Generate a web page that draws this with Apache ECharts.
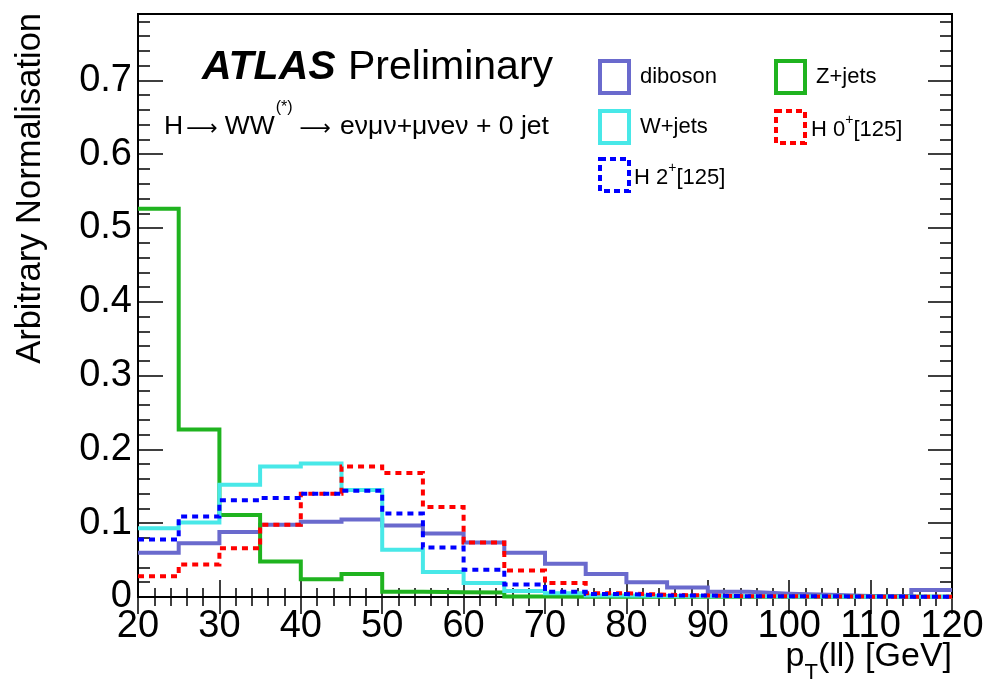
<!DOCTYPE html>
<html>
<head>
<meta charset="utf-8">
<script src="https://cdn.jsdelivr.net/npm/echarts@6/dist/echarts.min.js"></script>
<style>
  html, body { margin: 0; padding: 0; background: #ffffff; }
  #chart { width: 990px; height: 680px; }
</style>
</head>
<body>
<div id="chart"></div>
<script>
// pT(ll) bins, 5 GeV wide: lower edges plus the last upper edge
const binLow = [20, 25, 30, 35, 40, 45, 50, 55, 60, 65, 70, 75, 80, 85, 90, 95, 100, 105, 110, 115];
const binHigh = 120;

// Normalised shapes per process
const diboson = [0.060, 0.073, 0.088, 0.098, 0.102, 0.105, 0.097, 0.086, 0.074, 0.060,
                 0.045, 0.031, 0.020, 0.013, 0.007, 0.0045, 0.003, 0.0015, 0.0015, 0.0095];
const zJets   = [0.526, 0.227, 0.111, 0.048, 0.024, 0.031, 0.007, 0.0065, 0.006, 0.0006,
                 0.0005, 0.0004, 0.0004, 0.0003, 0.0003, 0.0002, 0.0002, 0.0002, 0.0002, 0.0002];
const wJets   = [0.093, 0.101, 0.152, 0.177, 0.181, 0.145, 0.064, 0.034, 0.019, 0.008,
                 0.005, 0.002, 0.0015, 0.001, 0.001, 0.0008, 0.0006, 0.0005, 0.0005, 0.0005];
const h0      = [0.028, 0.044, 0.066, 0.098, 0.140, 0.177, 0.168, 0.122, 0.074, 0.036,
                 0.019, 0.005, 0.003, 0.002, 0.001, 0.001, 0.0006, 0.0005, 0.0005, 0.0005];
const h2      = [0.078, 0.109, 0.131, 0.134, 0.140, 0.144, 0.113, 0.067, 0.037, 0.017,
                 0.007, 0.004, 0.002, 0.002, 0.001, 0.001, 0.001, 0.0006, 0.0005, 0.0005];

const seriesNames = ['diboson', 'Z+jets', 'W+jets', 'H 0+[125]', 'H 2+[125]'];
const xTickStep = 10;
const yTickStep = 0.1;
const yTop = 0.79;

const FONT = '"Liberation Sans", Arial, Helvetica, sans-serif';
const ARROW_FONT = '"DejaVu Sans", "Liberation Sans", sans-serif';
const COLORS = {
  diboson: '#6a6acd',
  zjets: '#1fb31f',
  wjets: '#48e8e8',
  h0: '#ff0000',
  h2: '#0000ff'
};
const DASH = [6, 5];

// histogram outline: one point per lower edge, closed by the last upper edge
function histPoints(vals) {
  const pts = binLow.map((x, i) => [x, vals[i]]);
  pts.push([binHigh, vals[vals.length - 1]]);
  return pts;
}

function histSeries(name, vals, color, dashed) {
  return {
    name: name,
    type: 'line',
    step: 'end',
    symbol: 'none',
    xAxisIndex: 0,
    yAxisIndex: 0,
    data: histPoints(vals),
    lineStyle: { color: color, width: 4, type: dashed ? DASH : 'solid', join: 'miter' },
    itemStyle: { color: color },
    emphasis: { disabled: true },
    animation: false
  };
}

function legendBox(name, left, top, color, dashed, textPad, rich) {
  return {
    show: true,
    left: left,
    top: top,
    padding: 0,
    orient: 'horizontal',
    selectedMode: false,
    icon: 'rect',
    itemWidth: 29,
    itemHeight: 32,
    data: [{
      name: name,
      icon: 'rect',
      itemStyle: {
        color: 'rgba(0,0,0,0)',
        borderColor: color,
        borderWidth: 4,
        borderType: dashed ? [6, 4] : 'solid'
      }
    }],
    formatter: rich ? function (n) {
      const parts = n.split('+');
      return '{n|' + parts[0] + '}{p|+}{n|' + parts[1] + '}';
    } : '{name}',
    textStyle: {
      fontFamily: FONT,
      fontSize: 22,
      color: '#000',
      padding: [0, 0, 0, textPad],
      rich: {
        n: { fontFamily: FONT, fontSize: 22, color: '#000', lineHeight: 28, verticalAlign: 'bottom' },
        p: { fontFamily: FONT, fontSize: 14, color: '#000', lineHeight: 14, verticalAlign: 'top' }
      }
    }
  };
}

const tickStyle = { color: '#000', width: 1.5 };

const option = {
  backgroundColor: '#ffffff',
  animation: false,
  grid: {
    left: 138, top: 14, right: 38, bottom: 83,
    show: true, borderColor: '#000', borderWidth: 2, backgroundColor: '#ffffff'
  },
  xAxis: [{
    type: 'value', position: 'bottom',
    min: binLow[0], max: binHigh, interval: xTickStep,
    axisLine: { show: false },
    splitLine: { show: false },
    axisTick: { show: true, inside: true, length: 17, lineStyle: tickStyle },
    minorTick: { show: true, splitNumber: 5, length: 9, lineStyle: tickStyle },
    axisLabel: { fontFamily: FONT, fontSize: 38, color: '#000', margin: 11 }
  }, {
    type: 'value', position: 'top',
    min: binLow[0], max: binHigh, interval: xTickStep,
    axisLine: { show: false },
    splitLine: { show: false },
    axisTick: { show: true, inside: true, length: 17, lineStyle: tickStyle },
    minorTick: { show: true, splitNumber: 5, length: 9, lineStyle: tickStyle },
    axisLabel: { show: false }
  }],
  yAxis: [{
    type: 'value', position: 'left',
    min: 0, max: yTop, interval: yTickStep,
    axisLine: { show: false },
    splitLine: { show: false },
    axisTick: { show: true, inside: true, length: 25, lineStyle: tickStyle },
    minorTick: { show: true, splitNumber: 5, length: 12, lineStyle: tickStyle },
    axisLabel: {
      fontFamily: FONT, fontSize: 38, color: '#000', margin: 6,
      showMaxLabel: false,
      formatter: function (v) { return v === 0 ? '0' : v.toFixed(1); }
    }
  }, {
    type: 'value', position: 'right',
    min: 0, max: yTop, interval: yTickStep,
    axisLine: { show: false },
    splitLine: { show: false },
    axisTick: { show: true, inside: true, length: 24, lineStyle: tickStyle },
    minorTick: { show: true, splitNumber: 5, length: 12, lineStyle: tickStyle },
    axisLabel: { show: false }
  }],
  legend: [
    legendBox(seriesNames[0], 598, 59, COLORS.diboson, false, 6, false),
    legendBox(seriesNames[1], 774, 59, COLORS.zjets, false, 6, false),
    legendBox(seriesNames[2], 598, 109, COLORS.wjets, false, 6, false),
    legendBox(seriesNames[3], 774, 109, COLORS.h0, true, 1, true),
    legendBox(seriesNames[4], 598, 157, COLORS.h2, true, 0, true)
  ],
  series: [
    histSeries(seriesNames[0], diboson, COLORS.diboson, false),
    histSeries(seriesNames[1], zJets, COLORS.zjets, false),
    histSeries(seriesNames[2], wJets, COLORS.wjets, false),
    histSeries(seriesNames[3], h0, COLORS.h0, true),
    histSeries(seriesNames[4], h2, COLORS.h2, true)
  ],
  graphic: [
    {
      type: 'text', x: 202, y: 68, silent: true,
      style: {
        text: 'ATLAS', fill: '#000',
        fontFamily: FONT, fontSize: 41, fontWeight: 'bold', fontStyle: 'italic',
        textAlign: 'left', textVerticalAlign: 'middle'
      }
    },
    {
      type: 'text', x: 348, y: 68, silent: true,
      style: {
        text: 'Preliminary', fill: '#000',
        fontFamily: FONT, fontSize: 41,
        textAlign: 'left', textVerticalAlign: 'middle'
      }
    },
    {
      type: 'text', x: 164, y: 100, silent: true,
      style: {
        text: '{m|H}{r1|\u27f6}{m|WW}{s|(*)}{r2|\u27f6}{m|e\u03bd\u03bc\u03bd+\u03bc\u03bde\u03bd + 0 jet}',
        fill: '#000', textAlign: 'left', textVerticalAlign: 'top',
        rich: {
          m: { fontFamily: FONT, fontSize: 26.5, color: '#000', lineHeight: 40, verticalAlign: 'bottom' },
          r1: { fontFamily: ARROW_FONT, fontSize: 22, color: '#000', lineHeight: 40, verticalAlign: 'bottom', padding: [0, 7, 0, 3] },
          r2: { fontFamily: ARROW_FONT, fontSize: 22, color: '#000', lineHeight: 40, verticalAlign: 'bottom', padding: [0, 9, 0, 7] },
          s: { fontFamily: FONT, fontSize: 16, color: '#000', lineHeight: 14, verticalAlign: 'top', padding: [0, 0, 0, 1] }
        }
      }
    },
    {
      type: 'text', x: 952, y: 640, silent: true,
      style: {
        text: '{a|p}{b|T}{a|(ll) [GeV]}',
        fill: '#000', textAlign: 'right', textVerticalAlign: 'top',
        rich: {
          a: { fontFamily: FONT, fontSize: 34, color: '#000', lineHeight: 40, verticalAlign: 'top' },
          b: { fontFamily: FONT, fontSize: 22, color: '#000', lineHeight: 22, verticalAlign: 'top', padding: [22, 0, 0, 0] }
        }
      }
    },
    {
      type: 'text', x: 30, y: 13, rotation: Math.PI / 2, silent: true,
      style: {
        text: 'Arbitrary Normalisation', fill: '#000',
        fontFamily: FONT, fontSize: 34.5,
        textAlign: 'right', textVerticalAlign: 'middle'
      }
    }
  ]
};

const chart = echarts.init(document.getElementById('chart'), null, { renderer: 'canvas' });
chart.setOption(option);
</script>
</body>
</html>
